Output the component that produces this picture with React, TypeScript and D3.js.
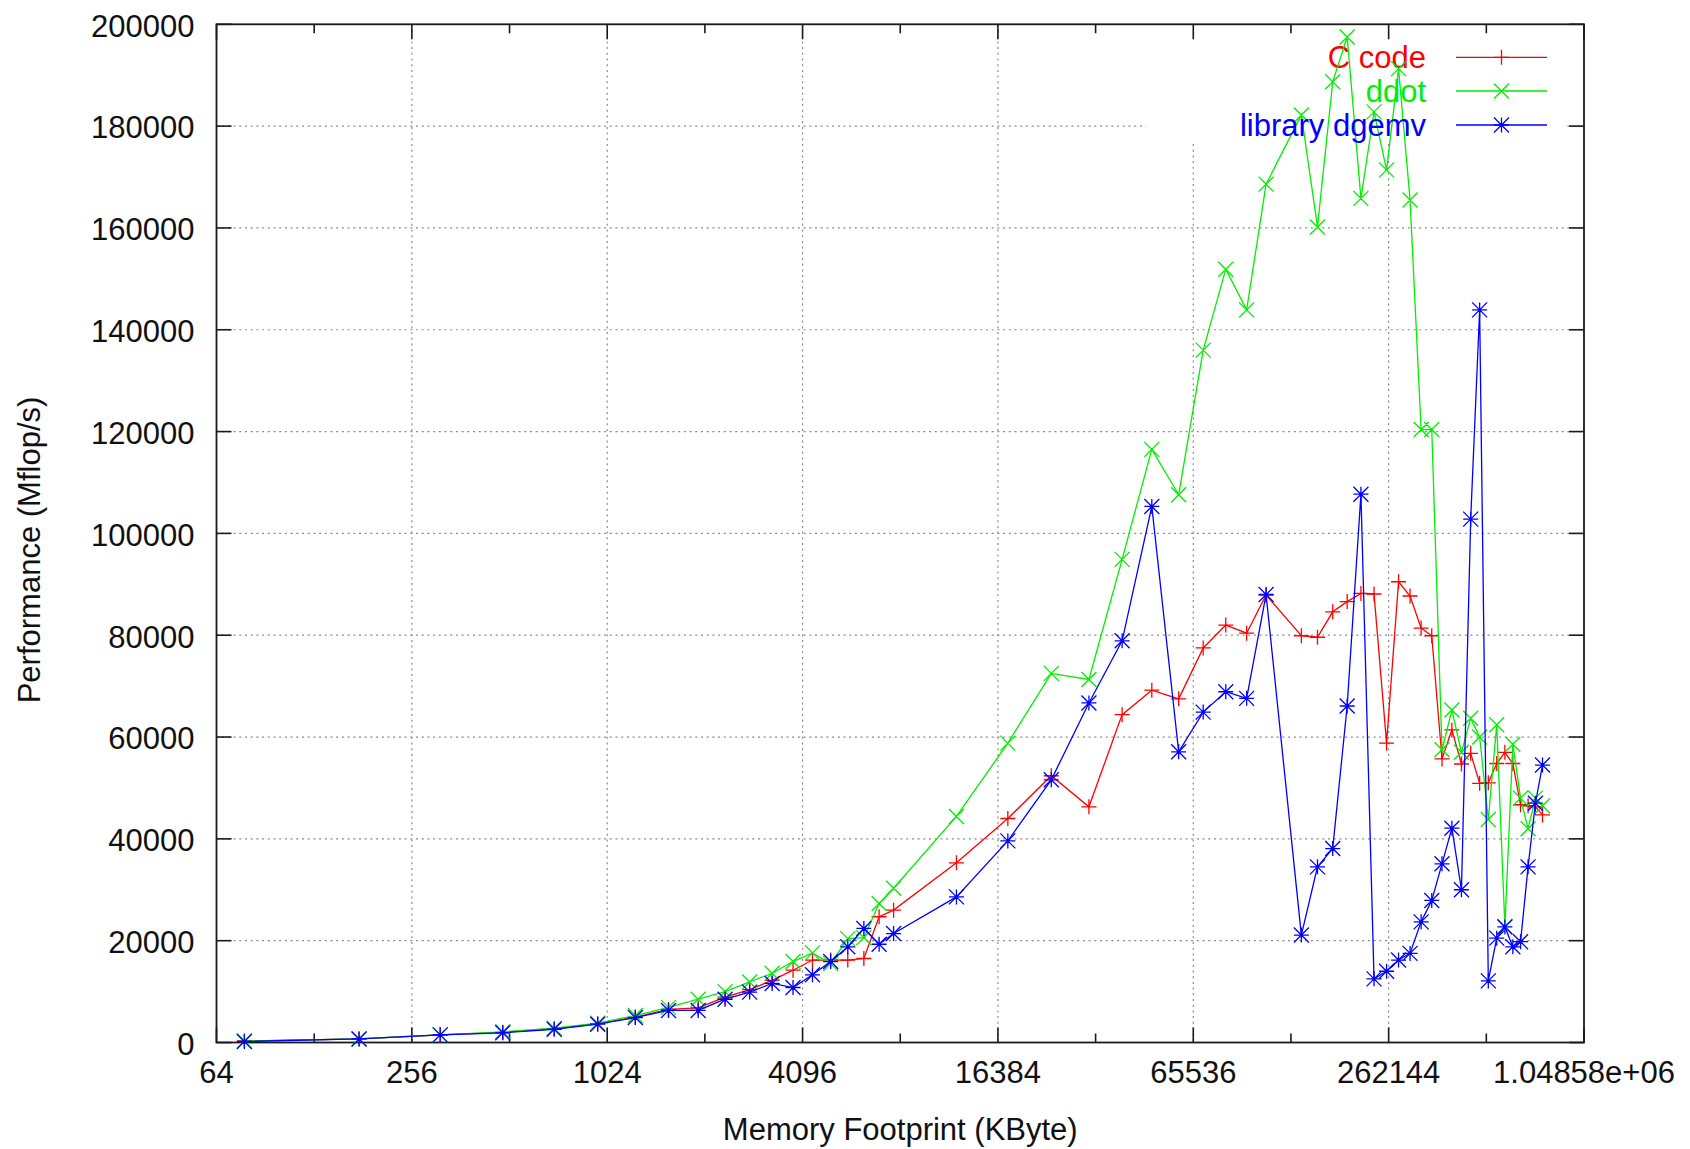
import React from 'react';
import * as d3 from 'd3';

// Memory footprint of each N x N double-precision problem (KByte)
const footprintKB = [
  78, 176, 313, 488, 703, 957, 1250, 1582, 1953,
  2363, 2813, 3301, 3828, 4395, 5000, 5645, 6328, 7051, 7813,
  12207, 17578, 23926, 31250, 39551, 48828, 59082, 70313, 82520, 95703, 109863,
  141113, 158203, 176270, 195313, 215332, 236328, 258301, 281250, 305176, 330078,
  355957, 382813, 410645, 439453, 469238, 500000, 531738, 564453, 598145, 632813,
  668457, 705078, 742676, 781250,
];

// Performance (Mflop/s) per implementation
const cCode = [
  300, 700, 1500, 2000, 2700, 3700, 5000, 6500, 6800,
  8900, 10400, 12200, 14200, 16200, 16200, 16200, 16500, 24700, 26000,
  35300, 44000, 52400, 46300, 64400, 69200, 67500, 77500, 82000, 80400, 87900,
  79900, 79600, 84600, 86600, 88200, 88100, 58800, 90500, 87700, 81400,
  79900, 55700, 61400, 54700, 56800, 50900, 51000, 54800, 57000, 54800,
  46700, 46500, 46300, 44700,
];

const ddot = [
  300, 700, 1500, 2100, 2800, 3800, 5300, 6900, 8500,
  10000, 11900, 13600, 15900, 17600, 15500, 20400, 20600, 27300, 30300,
  44400, 58800, 72500, 71300, 94900, 116500, 107600, 136000, 151900, 143900, 168600,
  182200, 160200, 188700, 197500, 165800, 182800, 171400, 191300, 165500, 120400,
  120400, 57500, 65300, 57000, 63700, 60000, 43800, 62400, 22800, 58600,
  48000, 42000, 48000, 46500,
];

const dgemv = [
  200, 700, 1500, 1900, 2600, 3600, 4900, 6300, 6300,
  8500, 9900, 11600, 10800, 13300, 15900, 18800, 22400, 19300, 21400,
  28600, 39600, 51600, 66700, 78900, 105300, 57100, 64900, 68900, 67600, 88000,
  21100, 34500, 38100, 66100, 107700, 12500, 14000, 16200, 17500, 23700,
  27900, 35100, 42100, 30000, 102800, 143900, 12100, 20500, 22700, 18800,
  19800, 34500, 47000, 54500,
];

const xTickValues = [64, 256, 1024, 4096, 16384, 65536, 262144, 1048576];
const xTickLabels = ['64', '256', '1024', '4096', '16384', '65536', '262144', '1.04858e+06'];
const xMinorTicks = [128, 512, 2048, 8192, 32768, 131072, 524288];
const yTickValues = [0, 20000, 40000, 60000, 80000, 100000, 120000, 140000, 160000, 180000, 200000];

const seriesNames = ['C code', 'ddot', 'library dgemv'];
const seriesColors = ['#ff0000', '#00ee00', '#0000ff'];
const seriesMarkers = ['plus', 'cross', 'star'];
const seriesValues = [cCode, ddot, dgemv];

const W = 1690;
const H = 1149;
const left = 216.5;
const right = 1584;
const top = 24.3;
const bottom = 1042.5;
const FONT = '"Liberation Sans", Arial, Helvetica, sans-serif';
const FS = 31;
const MS = 7.5;
const LW = 1.3;

function markerPath(kind: string, x: number, y: number): string {
  const plus = `M${x - MS},${y}H${x + MS}M${x},${y - MS}V${y + MS}`;
  const cross = `M${x - MS},${y - MS}L${x + MS},${y + MS}M${x - MS},${y + MS}L${x + MS},${y - MS}`;
  if (kind === 'plus') return plus;
  if (kind === 'cross') return cross;
  return plus + cross;
}

export default function App() {
  const x = d3.scaleLog().base(2).domain([64, 1048576]).range([left, right]);
  const y = d3.scaleLinear().domain([0, 200000]).range([bottom, top]);

  const line = d3
    .line<number>()
    .x((_, i) => x(footprintKB[i]))
    .y((d) => y(d));

  const gridY = yTickValues.filter((v) => v > 0 && v < 200000);
  const gridX = xTickValues.filter((v) => v > 64 && v < 1048576);

  const keyRows = [57.3, 91, 125];

  return (
    <svg
      width={W}
      height={H}
      viewBox={`0 0 ${W} ${H}`}
      style={{ position: 'absolute', left: 0, top: 0, background: '#fff' }}
      fontFamily={FONT}
    >
      <rect x={0} y={0} width={W} height={H} fill="#fff" />

      {/* grid */}
      <g stroke="#8a8a8a" strokeWidth={1.2} strokeDasharray="2,3.7" fill="none">
        {gridY.map((v) => (
          <line key={`gy${v}`} x1={left} x2={right} y1={y(v)} y2={y(v)} />
        ))}
        {gridX.map((v) => (
          <line key={`gx${v}`} x1={x(v)} x2={x(v)} y1={top} y2={bottom} />
        ))}
      </g>

      {/* key background */}
      <rect x={1146} y={top + 1} width={418} height={116} fill="#fff" />

      {/* ticks */}
      <g stroke="#1a1a1a" strokeWidth={1.6}>
        {yTickValues.map((v) => (
          <g key={`ty${v}`}>
            <line x1={left} x2={left + 15} y1={y(v)} y2={y(v)} />
            <line x1={right} x2={right - 15} y1={y(v)} y2={y(v)} />
          </g>
        ))}
        {xTickValues.map((v) => (
          <g key={`tx${v}`}>
            <line x1={x(v)} x2={x(v)} y1={bottom} y2={bottom - 15} />
            <line x1={x(v)} x2={x(v)} y1={top} y2={top + 15} />
          </g>
        ))}
        {xMinorTicks.map((v) => (
          <g key={`tm${v}`}>
            <line x1={x(v)} x2={x(v)} y1={bottom} y2={bottom - 9} />
            <line x1={x(v)} x2={x(v)} y1={top} y2={top + 9} />
          </g>
        ))}
      </g>

      {/* border */}
      <rect
        x={left}
        y={top}
        width={right - left}
        height={bottom - top}
        fill="none"
        stroke="#1a1a1a"
        strokeWidth={1.8}
      />

      {/* tick labels */}
      <g fontSize={FS} fill="#111">
        {yTickValues.map((v) => (
          <text key={`ly${v}`} x={194.5} y={y(v) + 12.3} textAnchor="end">
            {String(v)}
          </text>
        ))}
        {xTickValues.map((v, i) => (
          <text key={`lx${v}`} x={x(v)} y={1083} textAnchor="middle">
            {xTickLabels[i]}
          </text>
        ))}
      </g>

      {/* axis titles */}
      <text x={(left + right) / 2} y={1140} textAnchor="middle" fontSize={FS} fill="#111">
        Memory Footprint (KByte)
      </text>
      <text
        transform={`translate(40,550) rotate(-90)`}
        textAnchor="middle"
        fontSize={FS}
        fill="#111"
      >
        Performance (Mflop/s)
      </text>

      {/* series, each preceded by its key entry */}
      {seriesValues.map((vals, s) => {
        const color = seriesColors[s];
        const ky = keyRows[s];
        return (
          <g key={`s${s}`}>
            <text x={1426} y={ky + 11} textAnchor="end" fontSize={FS} fill={color}>
              {seriesNames[s]}
            </text>
            <line x1={1456} x2={1547} y1={ky} y2={ky} stroke={color} strokeWidth={LW} />
            <path d={markerPath(seriesMarkers[s], 1501.5, ky)} stroke={color} strokeWidth={LW} fill="none" />
            <path d={line(vals) || ''} stroke={color} strokeWidth={LW} fill="none" />
            <path
              d={vals.map((v, i) => markerPath(seriesMarkers[s], x(footprintKB[i]), y(v))).join('')}
              stroke={color}
              strokeWidth={LW}
              fill="none"
            />
          </g>
        );
      })}
    </svg>
  );
}
